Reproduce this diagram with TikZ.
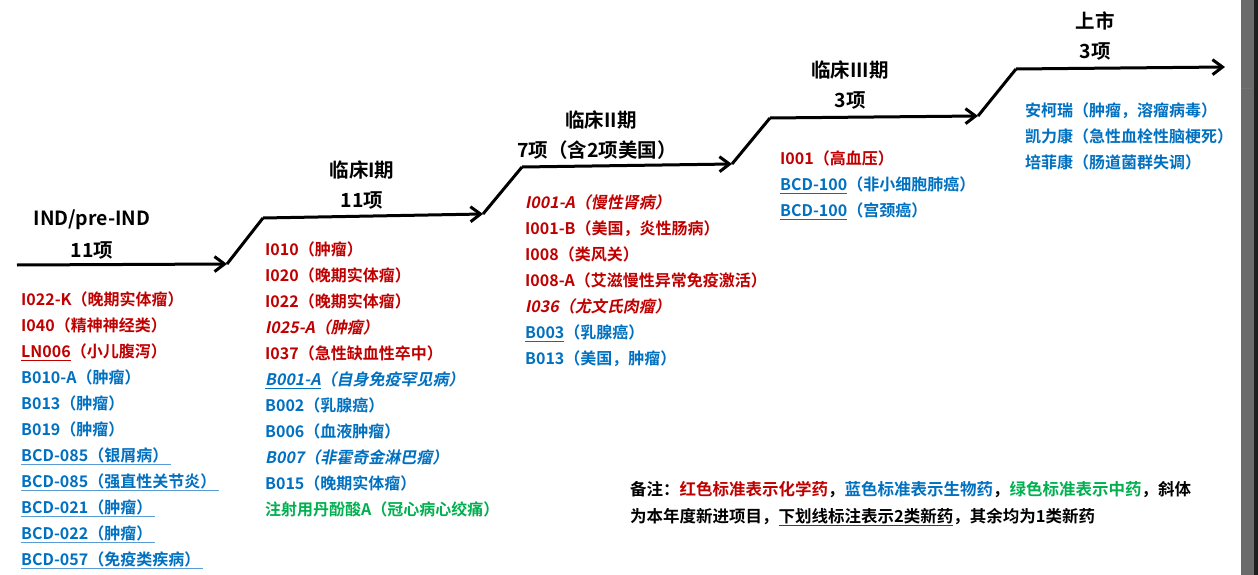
\documentclass[tikz,border=0pt]{standalone}
\usepackage{fontspec}
\setmainfont{Noto Sans CJK SC Bold}
\newfontfamily\slantfont{Noto Sans CJK SC Bold}[FakeSlant=0.2]
\usepackage{tikz}
\usetikzlibrary{arrows.meta}
\definecolor{drugred}{HTML}{C00000}
\definecolor{drugblue}{HTML}{0070C0}
\definecolor{druggreen}{HTML}{00B050}
\definecolor{lineblue}{HTML}{5B9BD5}
\definecolor{notegray}{HTML}{404040}
\definecolor{barleft}{HTML}{6B6B6B}
\definecolor{barright}{HTML}{1E1E1E}
\newcommand{\chem}[1]{\textcolor{drugred}{#1}}
\newcommand{\bio}[1]{\textcolor{drugblue}{#1}}
\newcommand{\tcm}[1]{\textcolor{druggreen}{#1}}
\newcommand{\drugul}[2][.]{\setbox0\hbox{#2}\rlap{\color{#1}\rule[-3.5pt]{\wd0}{1.3pt}}\box0}

\begin{document}
\begin{tikzpicture}[
		x=1pt, y=-1pt,
		head/.style={font=\fontsize{19.5}{21}\selectfont, text=black, inner sep=0pt},
		list/.style={font=\fontsize{16}{26}\selectfont, align=left, anchor=north west, inner sep=0pt},
		stage/.style={-{Straight Barb[length=10pt,width=15pt]}, line width=3pt},
		riser/.style={line width=3pt}
	]
	\useasboundingbox (0,0) rectangle (1258,575);
	\fill[white] (0,0) rectangle (1258,575);
	\fill[barleft] (1241,0) rectangle (1254,575);
	\fill[barright] (1254,0) rectangle (1258,575);
	\draw[black!55, line width=1pt] (1241,89) -- (1252,89);

	% Stairs
	\coordinate (s1) at (17,265);   \coordinate (t1) at (227,264);
	\coordinate (s2) at (263,218);  \coordinate (t2) at (483,214);
	\coordinate (s3) at (522,167);  \coordinate (t3) at (732,164);
	\coordinate (s4) at (770,118);  \coordinate (t4) at (978,116);
	\coordinate (s5) at (1016,69);  \coordinate (t5) at (1225,67);

	\draw[stage] (s1) -- (t1);
	\draw[riser] (t1) -- (s2);
	\draw[stage] (s2) -- (t2);
	\draw[riser] (t2) -- (s3);
	\draw[stage] (s3) -- (t3);
	\draw[riser] (t3) -- (s4);
	\draw[stage] (s4) -- (t4);
	\draw[riser] (t4) -- (s5);
	\draw[stage] (s5) -- (t5);

	% Stage titles
	\node[head] (ind) at (92,220) {IND/pre-IND};
	\node[head] (indnum) at (92,250) {11项};
	\node[head] (phase1) at (362,170) {临床I期};
	\node[head] (phase1num) at (362,200) {11项};
	\node[head] (phase2) at (601,120) {临床II期};
	\node[head] (phase2num) at (597,150) {7项（含2项美国）};
	\node[head] (phase3) at (850,70) {临床III期};
	\node[head] (phase3num) at (850,100) {3项};
	\node[head] (market) at (1095,21) {上市};
	\node[head] (marketnum) at (1095,51) {3项};

	% Drug lists
	\node[list] (indlist) at (21,292) {\chem{I022-K（晚期实体瘤）}\\
		\chem{I040（精神神经类）}\\
		\chem{\drugul{LN006}（小儿腹泻）}\\
		\bio{B010-A（肿瘤）}\\
		\bio{B013（肿瘤）}\\
		\bio{B019（肿瘤）}\\
		\bio{\drugul[lineblue]{BCD-085（银屑病）\hspace{3pt}}}\\
		\bio{\drugul[lineblue]{BCD-085（强直性关节炎）\hspace{3pt}}}\\
		\bio{\drugul[lineblue]{BCD-021（肿瘤）\hspace{3pt}}}\\
		\bio{\drugul[lineblue]{BCD-022（肿瘤）\hspace{3pt}}}\\
		\bio{\drugul[lineblue]{BCD-057（免疫类疾病）\hspace{3pt}}}};

	\node[list] (phase1list) at (265,242) {\chem{I010（肿瘤）}\\
		\chem{I020（晚期实体瘤）}\\
		\chem{I022（晚期实体瘤）}\\
		\chem{\slantfont I025-A（肿瘤）}\\
		\chem{I037（急性缺血性卒中）}\\
		\bio{\slantfont\drugul{B001-A}（自身免疫罕见病）}\\
		\bio{B002（乳腺癌）}\\
		\bio{B006（血液肿瘤）}\\
		\bio{\slantfont B007（非霍奇金淋巴瘤）}\\
		\bio{B015（晚期实体瘤）}\\
		\tcm{注射用丹酚酸A（冠心病心绞痛）}};

	\node[list] (phase2list) at (525,195) {\chem{\slantfont I001-A（慢性肾病）}\\
		\chem{I001-B（美国，炎性肠病）}\\
		\chem{I008（类风关）}\\
		\chem{I008-A（艾滋慢性异常免疫激活）}\\
		\chem{\slantfont I036（尤文氏肉瘤）}\\
		\bio{\drugul{B003}（乳腺癌）}\\
		\bio{B013（美国，肿瘤）}};

	\node[list] (phase3list) at (780,151) {\chem{I001（高血压）}\\
		\bio{\drugul{BCD-100}（非小细胞肺癌）}\\
		\bio{\drugul{BCD-100}（宫颈癌）}};

	\node[list] (marketlist) at (1025,103) {\bio{安柯瑞（肿瘤，溶瘤病毒）}\\
		\bio{凯力康（急性血栓性脑梗死）}\\
		\bio{培菲康（肠道菌群失调）}};

	% Legend
	\node[list, font=\fontsize{16.5}{27}\selectfont, text=black] (legend) at (630,481)
		{备注：\chem{红色标准表示化学药}，\bio{蓝色标准表示生物药}，\tcm{绿色标准表示中药}，斜体\\
		为本年度新进项目，\drugul[notegray]{下划线标注表示2类新药}，其余均为1类新药};
\end{tikzpicture}
\end{document}
